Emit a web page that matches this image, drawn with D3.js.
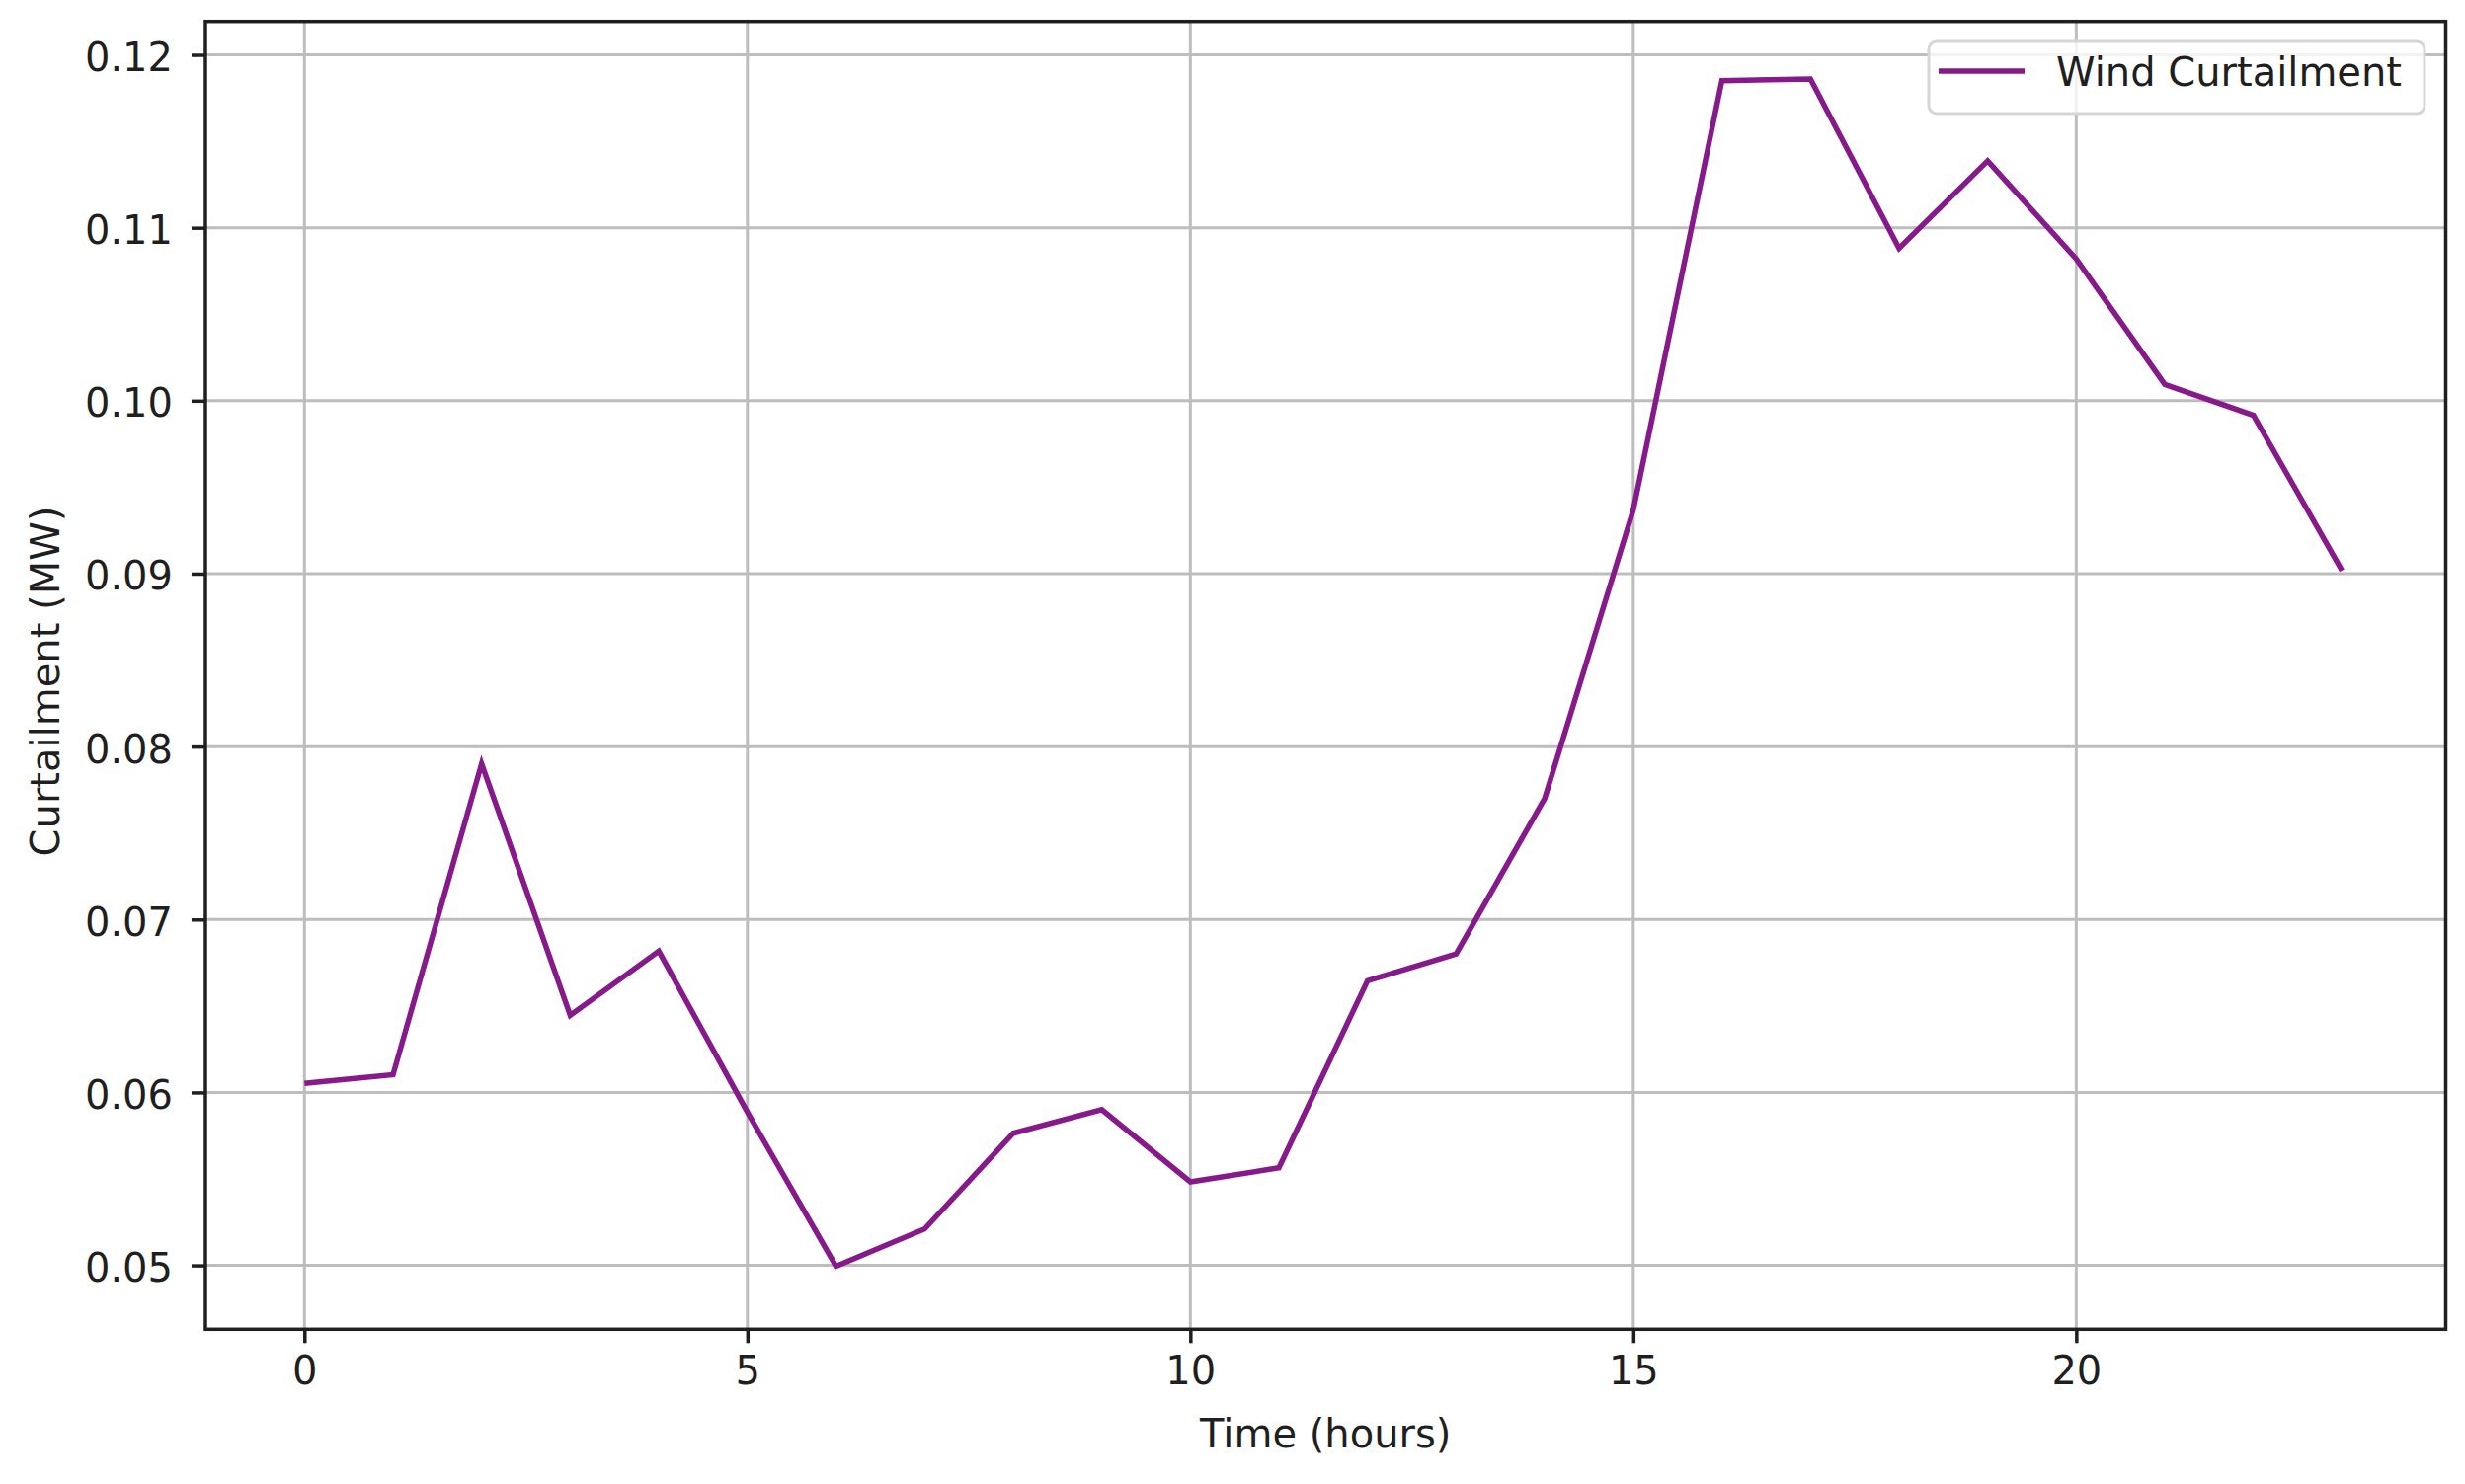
<!DOCTYPE html>
<html>
<head>
<meta charset="utf-8">
<script src="https://cdn.jsdelivr.net/npm/d3@7"></script>
<style>
  html, body { margin: 0; padding: 0; background: #ffffff; }
  svg { display: block; }
  text { font-family: "DejaVu Sans", sans-serif; }
</style>
</head>
<body>
<div id="chart"></div>
<script>
// ---- data ----
const hours = [0, 1, 2, 3, 4, 5, 6, 7, 8, 9, 10, 11, 12, 13, 14, 15, 16, 17, 18, 19, 20, 21, 22, 23];
const windCurtailment = [
  0.06053, 0.06103, 0.07901, 0.06446, 0.06817, 0.05886, 0.04995, 0.05210,
  0.05764, 0.05901, 0.05483, 0.05564, 0.06646, 0.06801, 0.07700, 0.09369,
  0.11850, 0.11860, 0.10881, 0.11387, 0.10820, 0.10094, 0.09916, 0.09018
];
const xTicks = [0, 5, 10, 15, 20];
const yTicks = [0.05, 0.06, 0.07, 0.08, 0.09, 0.10, 0.11, 0.12];
const seriesName = "Wind Curtailment";
const xLabel = "Time (hours)";
const yLabel = "Curtailment (MW)";

// ---- layout ----
const W = 2496, H = 1503;
const plot = { left: 208, right: 2476.5, top: 21.7, bottom: 1346.3 };
const fontSize = 40;
const ink = "#1f1f1f";
const lineColor = "#861a8a";

const svg = d3.select("#chart").append("svg")
  .attr("width", W).attr("height", H);
svg.append("rect").attr("width", W).attr("height", H).attr("fill", "#ffffff");

const x = d3.scaleLinear().domain([-1.118, 24.171]).range([plot.left, plot.right]);
const y = d3.scaleLinear().domain([0.046305, 0.121931]).range([plot.bottom, plot.top]);

// grid
const grid = svg.append("g");
grid.selectAll("line.gx").data(xTicks).enter().append("line")
  .attr("x1", d => x(d)).attr("x2", d => x(d))
  .attr("y1", plot.top).attr("y2", plot.bottom)
  .attr("stroke", "#bdbdbd").attr("stroke-width", 3);
grid.selectAll("line.gy").data(yTicks).enter().append("line")
  .attr("y1", d => y(d)).attr("y2", d => y(d))
  .attr("x1", plot.left).attr("x2", plot.right)
  .attr("stroke", "#bdbdbd").attr("stroke-width", 3);

// data line
const line = d3.line().x((d, i) => x(hours[i])).y(d => y(d));
svg.append("path").datum(windCurtailment)
  .attr("d", line)
  .attr("fill", "none")
  .attr("stroke", lineColor)
  .attr("stroke-width", 5.5)
  .attr("stroke-linejoin", "miter")
  .attr("stroke-linecap", "butt");

// axes
const xAxis = svg.append("g")
  .attr("transform", `translate(0,${plot.bottom})`)
  .call(d3.axisBottom(x).tickValues(xTicks).tickFormat(d3.format("d")).tickSize(14).tickPadding(13).tickSizeOuter(0));
const yAxis = svg.append("g")
  .attr("transform", `translate(${plot.left},0)`)
  .call(d3.axisLeft(y).tickValues(yTicks).tickFormat(d3.format(".2f")).tickSize(14).tickPadding(19).tickSizeOuter(0));

[xAxis, yAxis].forEach(g => {
  g.select(".domain").remove();
  g.selectAll(".tick line").attr("stroke", ink).attr("stroke-width", 3.5);
  g.selectAll(".tick text")
    .attr("fill", ink)
    .style("font-size", fontSize + "px")
    .style("font-family", "'DejaVu Sans', sans-serif");
});
yAxis.selectAll(".tick text").attr("dy", "0.4em");

// spines (frame)
svg.append("rect")
  .attr("x", plot.left).attr("y", plot.top)
  .attr("width", plot.right - plot.left).attr("height", plot.bottom - plot.top)
  .attr("fill", "none").attr("stroke", ink).attr("stroke-width", 3.5);

// axis labels
svg.append("text")
  .attr("x", (plot.left + plot.right) / 2).attr("y", 1466)
  .attr("text-anchor", "middle")
  .attr("fill", ink)
  .style("font-size", fontSize + "px")
  .text(xLabel);

svg.append("text")
  .attr("transform", `translate(60,${(plot.top + plot.bottom) / 2 + 6}) rotate(-90)`)
  .attr("text-anchor", "middle")
  .attr("fill", ink)
  .style("font-size", fontSize + "px")
  .text(yLabel);

// legend
const lg = svg.append("g");
lg.append("rect")
  .attr("x", 1953).attr("y", 42)
  .attr("width", 2455 - 1953).attr("height", 115 - 42)
  .attr("rx", 8).attr("ry", 8)
  .attr("fill", "#ffffff").attr("fill-opacity", 0.8)
  .attr("stroke", "#d6d6d6").attr("stroke-width", 3);
lg.append("line")
  .attr("x1", 1963).attr("x2", 2050)
  .attr("y1", 72).attr("y2", 72)
  .attr("stroke", lineColor).attr("stroke-width", 5.5);
lg.append("text")
  .attr("x", 2082).attr("y", 87)
  .attr("fill", ink)
  .style("font-size", fontSize + "px")
  .text(seriesName);
</script>
</body>
</html>
